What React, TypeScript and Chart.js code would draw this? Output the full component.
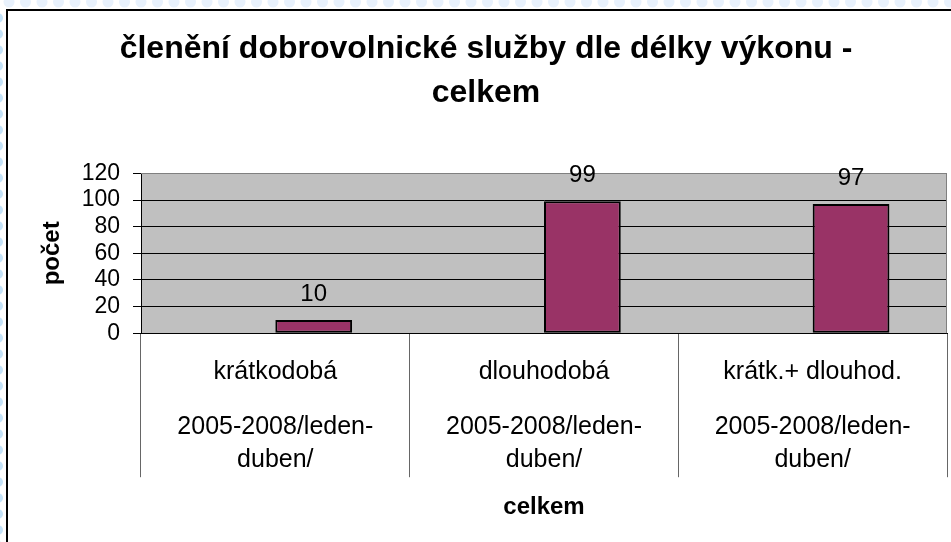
import React, { useEffect, useRef } from "react";
import { Chart, registerables } from "chart.js";

Chart.register(...registerables);

// ---- data ----
const categoryNames = ["krátkodobá", "dlouhodobá", "krátk.+ dlouhod."];
const periodLine1 = ["2005-2008/leden-", "2005-2008/leden-", "2005-2008/leden-"];
const periodLine2 = ["duben/", "duben/", "duben/"];
const emptySeries: (number | null)[] = [null, null, null];
const totalValues = [10, 99, 97];
const yMin = 0;
const yMax = 120;
const yStep = 20;
const titleLines = ["členění dobrovolnické služby dle délky výkonu -", "celkem"];
const yTitle = "počet";
const xTitle = "celkem";

const FONT = "'Liberation Sans', Arial, Helvetica, sans-serif";
const BAR_COLOR = "#993366";

const backgroundPlugin = {
  id: "excelBackground",
  beforeDraw(chart: any) {
    const { ctx, width, height, chartArea } = chart;
    ctx.save();
    ctx.fillStyle = "#ffffff";
    ctx.fillRect(0, 0, width, height);
    // dotted page pattern outside the chart frame
    ctx.fillStyle = "#e8f1fc";
    for (let x = 9; x < width + 10; x += 16.5) {
      ctx.beginPath();
      ctx.arc(x, 2, 5.5, 0, Math.PI * 2);
      ctx.fill();
    }
    ctx.fillStyle = "#c4e2f8";
    for (let y = 18; y < height + 10; y += 16) {
      ctx.beginPath();
      ctx.arc(-2, y, 5, 0, Math.PI * 2);
      ctx.fill();
    }
    // chart frame
    ctx.fillStyle = "#ffffff";
    ctx.fillRect(7, 10, width, height);
    ctx.strokeStyle = "#000000";
    ctx.lineWidth = 2;
    ctx.beginPath();
    ctx.moveTo(7, height + 2);
    ctx.lineTo(7, 10);
    ctx.lineTo(width + 2, 10);
    ctx.stroke();
    // plot area fill
    ctx.fillStyle = "#c0c0c0";
    ctx.fillRect(
      chartArea.left,
      chartArea.top,
      chartArea.right - chartArea.left,
      chartArea.bottom - chartArea.top
    );
    ctx.restore();
  },
  beforeDatasetsDraw(chart: any) {
    const { ctx, chartArea } = chart;
    ctx.save();
    ctx.strokeStyle = "#808080";
    ctx.lineWidth = 1;
    ctx.beginPath();
    ctx.moveTo(chartArea.left, Math.round(chartArea.top) + 0.5);
    ctx.lineTo(Math.round(chartArea.right) - 0.5, Math.round(chartArea.top) + 0.5);
    ctx.lineTo(Math.round(chartArea.right) - 0.5, chartArea.bottom);
    ctx.stroke();
    ctx.restore();
  },
  afterDraw(chart: any) {
    const { ctx, chartArea } = chart;
    const xScale = chart.scales.x;
    ctx.save();
    ctx.fillStyle = "#000000";
    ctx.textAlign = "center";
    ctx.textBaseline = "alphabetic";
    // category labels
    ctx.font = `25px ${FONT}`;
    categoryNames.forEach((name, i) => {
      const cx = xScale.getPixelForValue(i);
      ctx.fillText(name, cx, chartArea.bottom + 46);
      ctx.fillText(periodLine1[i], cx, chartArea.bottom + 101);
      ctx.fillText(periodLine2[i], cx, chartArea.bottom + 134);
    });
    // data labels
    ctx.font = `24px ${FONT}`;
    const meta = chart.getDatasetMeta(1);
    meta.data.forEach((el: any, i: number) => {
      const v = totalValues[i];
      if (v === null || v === undefined) return;
      ctx.fillText(String(v), el.x, el.y - 19);
    });
    ctx.restore();
  },
};

export default function App() {
  const canvasRef = useRef<HTMLCanvasElement | null>(null);

  useEffect(() => {
    if (!canvasRef.current) return;
    const chart = new Chart(canvasRef.current, {
      type: "bar",
      data: {
        labels: categoryNames,
        datasets: [
          {
            label: "",
            data: emptySeries,
            backgroundColor: BAR_COLOR,
            borderColor: "#000000",
            borderWidth: 2,
          },
          {
            label: xTitle,
            data: totalValues,
            backgroundColor: BAR_COLOR,
            borderColor: "#000000",
            borderWidth: 2,
            borderSkipped: false,
          },
        ],
      },
      options: {
        responsive: false,
        animation: false,
        devicePixelRatio: 1,
        categoryPercentage: 4 / 7,
        barPercentage: 1,
        layout: { padding: { left: 25, right: 4, top: 10, bottom: 10 } },
        plugins: {
          legend: { display: false },
          tooltip: { enabled: false },
          title: {
            display: true,
            text: titleLines,
            color: "#000000",
            font: { family: FONT, size: 32, weight: "bold", lineHeight: 1.35 },
            padding: { top: 18, bottom: 59 },
          },
        },
        scales: {
          x: {
            type: "category",
            offset: true,
            grid: {
              display: true,
              drawOnChartArea: false,
              drawTicks: true,
              tickLength: 144,
              offset: true,
              color: "#666666",
              lineWidth: 1,
            },
            border: { display: true, color: "#000000", width: 1 },
            ticks: { display: false },
            title: {
              display: true,
              text: xTitle,
              color: "#000000",
              font: { family: FONT, size: 24, weight: "bold", lineHeight: 1.2 },
              padding: { top: 16, bottom: 10 },
            },
          },
          y: {
            min: yMin,
            max: yMax,
            afterFit: (scale: any) => {
              scale.width = 116;
            },
            ticks: {
              stepSize: yStep,
              autoSkip: false,
              color: "#000000",
              font: { family: FONT, size: 23 },
              padding: 13,
            },
            grid: {
              color: (c: any) => (c.tick && c.tick.value === yMax ? "#808080" : "#000000"),
              tickColor: "#000000",
              lineWidth: 1,
              tickLength: 8,
              drawTicks: true,
            },
            border: { display: true, color: "#000000", width: 1 },
            title: {
              display: true,
              text: yTitle,
              color: "#000000",
              font: { family: FONT, size: 24, weight: "bold", lineHeight: 1.2 },
              padding: { top: 13, bottom: 0 },
            },
          },
        },
      },
      plugins: [backgroundPlugin],
    } as any);
    return () => chart.destroy();
  }, []);

  return (
    <div style={{ position: "fixed", left: 0, top: 0, width: 951, height: 542 }}>
      <canvas ref={canvasRef} width={951} height={542} style={{ display: "block" }} />
    </div>
  );
}
